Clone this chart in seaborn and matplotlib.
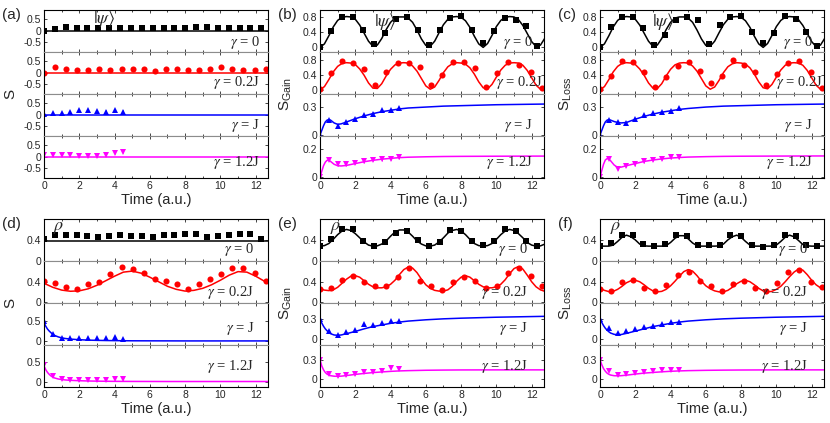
import numpy as np
import matplotlib
matplotlib.use("Agg")
import matplotlib.pyplot as plt
import seaborn as sns
from matplotlib.ticker import FuncFormatter, MultipleLocator

sns.set_theme(style="ticks")
plt.rcParams["font.family"] = ["Liberation Sans", "DejaVu Sans"]
plt.rcParams["mathtext.fontset"] = "stix"

# ---------------- time axes ----------------
t_fit = np.arange(0, 12.76, 0.25)          # theory curve samples (periodic rows)
t_half = np.arange(0, 13.01, 0.5)          # theory samples for (d) gamma=0.2J
t_decay = [0, 0.1, 0.2, 0.3, 0.4, 0.5, 0.6, 0.8, 1.0, 1.2, 1.5, 2, 2.5, 3, 3.5,
           4, 4.5, 5, 6, 7, 8, 10, 13]
t_flat = [0, 13]
t_black = [0, 0.62, 1.23, 1.85, 2.46, 3.08, 3.7, 4.31, 4.93, 5.54, 6.16, 6.78,
           7.39, 8.01, 8.62, 9.24, 9.86, 10.47, 11.09, 11.7, 12.32]
t_red = [0, 0.63, 1.26, 1.88, 2.51, 3.14, 3.77, 4.4, 5.03, 5.65, 6.28, 6.91,
         7.54, 8.17, 8.8, 9.42, 10.05, 10.68, 11.31, 11.94, 12.57]
t_short = [0, 0.5, 1, 1.5, 2, 2.5, 3, 3.5, 4, 4.5]

# ---------------- (a) S, pure state ----------------
a_fit = [0, 0]
a_black = [0.0, 0.08, 0.16, 0.12, 0.12, 0.14, 0.13, 0.12, 0.13, 0.13, 0.13,
           0.13, 0.14, 0.14, 0.15, 0.15, 0.14, 0.14, 0.14, 0.11, 0.11]
a_red = [0.0, 0.23, 0.17, 0.12, 0.12, 0.18, 0.12, 0.15, 0.17, 0.18, 0.09,
         0.15, 0.15, 0.12, 0.14, 0.15, 0.24, 0.15, 0.11, 0.12, 0.15]
a_blue = [0.04, 0.08, 0.07, 0.13, 0.2, 0.19, 0.16, 0.14, 0.2, 0.14]
a_mag = [0.08, 0.08, 0.08, 0.08, 0.05, 0.02, 0.04, 0.06, 0.15, 0.2]

# ---------------- (b) S_Gain, pure state ----------------
b_black_fit = [0, 0.09, 0.30, 0.53, 0.70, 0.78, 0.80, 0.79, 0.73, 0.58, 0.37, 0.16,
               0.03, 0.06, 0.23, 0.46, 0.65, 0.76, 0.79, 0.79, 0.76, 0.65, 0.45, 0.22,
               0.05, 0.03, 0.16, 0.38, 0.59, 0.73, 0.79, 0.80, 0.78, 0.69, 0.52, 0.29,
               0.09, 0.0, 0.10, 0.31, 0.54, 0.70, 0.78, 0.80, 0.79, 0.72, 0.57, 0.36,
               0.15, 0.02, 0.06, 0.24]
b_red_fit = [0, 0.08, 0.27, 0.48, 0.63, 0.71, 0.73, 0.72, 0.68, 0.56, 0.39, 0.18,
             0.04, 0.03, 0.16, 0.37, 0.55, 0.67, 0.72, 0.73, 0.72, 0.64, 0.50, 0.30,
             0.10, 0.01, 0.07, 0.25, 0.46, 0.62, 0.70, 0.73, 0.72, 0.69, 0.59, 0.42,
             0.21, 0.05, 0.02, 0.14, 0.34, 0.53, 0.66, 0.72, 0.73, 0.72, 0.66, 0.52,
             0.32, 0.12, 0.01, 0.05]
b_black = [0.02, 0.42, 0.8, 0.8, 0.45, 0.08, 0.38, 0.74, 0.8, 0.46, 0.06, 0.46,
           0.76, 0.81, 0.46, 0.12, 0.43, 0.76, 0.72, 0.55, 0.04]
b_red = [0.02, 0.46, 0.78, 0.72, 0.55, 0.12, 0.49, 0.72, 0.73, 0.62, 0.13, 0.39,
         0.76, 0.74, 0.58, 0.07, 0.45, 0.76, 0.68, 0.48, 0.05]
b_blue_fit = [0, 0.05, 0.1, 0.14, 0.16, 0.165, 0.16, 0.13, 0.115, 0.12, 0.14, 0.175,
              0.205, 0.23, 0.25, 0.265, 0.28, 0.29, 0.3, 0.31, 0.315, 0.325, 0.333]
b_blue = [0.0, 0.16, 0.10, 0.14, 0.17, 0.21, 0.23, 0.27, 0.27, 0.29]
b_mag_fit = [0, 0.04, 0.08, 0.105, 0.118, 0.118, 0.11, 0.09, 0.08, 0.078, 0.082,
             0.095, 0.108, 0.118, 0.126, 0.132, 0.137, 0.14, 0.143, 0.145, 0.146,
             0.147, 0.148]
b_mag = [0.0, 0.12, 0.09, 0.09, 0.10, 0.11, 0.12, 0.125, 0.13, 0.14]

# ---------------- (c) S_Loss, pure state (same theory as gain) ----------------
c_black = [0.02, 0.53, 0.8, 0.8, 0.5, 0.06, 0.33, 0.72, 0.8, 0.7, 0.1, 0.58,
           0.8, 0.82, 0.39, 0.12, 0.38, 0.82, 0.74, 0.39, 0.03]
c_red = [0.02, 0.36, 0.77, 0.74, 0.47, 0.07, 0.33, 0.65, 0.76, 0.51, 0.18, 0.38,
         0.8, 0.67, 0.49, 0.13, 0.43, 0.71, 0.77, 0.49, 0.05]
c_blue_fit = [0, 0.05, 0.1, 0.14, 0.16, 0.165, 0.16, 0.145, 0.135, 0.13, 0.135, 0.17,
              0.2, 0.225, 0.245, 0.26, 0.275, 0.285, 0.3, 0.31, 0.315, 0.325, 0.333]
c_blue = [0.0, 0.16, 0.14, 0.13, 0.17, 0.21, 0.24, 0.25, 0.26, 0.29]
c_mag_fit = [0, 0.045, 0.09, 0.12, 0.13, 0.128, 0.115, 0.085, 0.068, 0.07, 0.08,
             0.095, 0.11, 0.12, 0.128, 0.134, 0.138, 0.141, 0.144, 0.146, 0.147,
             0.148, 0.149]
c_mag = [0.0, 0.13, 0.06, 0.08, 0.09, 0.11, 0.12, 0.13, 0.14, 0.14]

# ---------------- (d) S, mixed state ----------------
d_black_fit = [0.38, 0.38]
d_black = [0.41, 0.49, 0.49, 0.49, 0.48, 0.45, 0.47, 0.49, 0.48, 0.47, 0.46, 0.49,
           0.49, 0.51, 0.51, 0.46, 0.48, 0.50, 0.51, 0.51, 0.42]
d_red_fit = [0.38, 0.3, 0.245, 0.222, 0.23, 0.27, 0.34, 0.43, 0.52, 0.6, 0.62, 0.58,
             0.5, 0.41, 0.32, 0.26, 0.225, 0.24, 0.28, 0.35, 0.44, 0.54, 0.61, 0.6,
             0.52, 0.42, 0.33]
d_red = [0.43, 0.38, 0.3, 0.27, 0.36, 0.41, 0.56, 0.71, 0.67, 0.59, 0.46, 0.43,
         0.36, 0.26, 0.37, 0.46, 0.56, 0.69, 0.69, 0.59, 0.43]
d_blue_fit = [0.45, 0.36, 0.29, 0.24, 0.2, 0.16, 0.135, 0.1, 0.075, 0.06, 0.045,
              0.03, 0.02, 0.014, 0.01, 0.007, 0.005, 0.003, 0.002, 0.001, 0, 0, 0]
d_blue = [0.48, 0.17, 0.08, 0.08, 0.065, 0.08, 0.065, 0.065, 0.1, 0.05]
d_mag_fit = [0.4, 0.3, 0.23, 0.18, 0.14, 0.11, 0.09, 0.065, 0.05, 0.04, 0.03, 0.02,
             0.013, 0.009, 0.006, 0.004, 0.003, 0.002, 0.001, 0, 0, 0, 0]
d_mag = [0.42, 0.13, 0.06, 0.05, 0.04, 0.05, 0.04, 0.04, 0.07, 0.07]

# ---------------- (e) S_Gain, mixed state ----------------
e_black_fit = [0.28, 0.29, 0.33, 0.41, 0.50, 0.57, 0.60, 0.58, 0.52, 0.44, 0.36, 0.30,
               0.28, 0.285, 0.32, 0.38, 0.47, 0.55, 0.59, 0.59, 0.55, 0.47, 0.38, 0.32,
               0.285, 0.28, 0.30, 0.36, 0.44, 0.53, 0.58, 0.60, 0.57, 0.50, 0.41, 0.33,
               0.29, 0.28, 0.29, 0.33, 0.41, 0.50, 0.57, 0.60, 0.58, 0.52, 0.44, 0.35,
               0.30, 0.28, 0.285, 0.32]
e_black = [0.29, 0.41, 0.61, 0.6, 0.37, 0.28, 0.36, 0.54, 0.57, 0.4, 0.28, 0.36,
           0.58, 0.57, 0.37, 0.3, 0.38, 0.6, 0.57, 0.38, 0.29]
e_red_fit = [0.27, 0.245, 0.235, 0.25, 0.30, 0.38, 0.46, 0.52, 0.53, 0.50, 0.43, 0.36,
             0.31, 0.29, 0.29, 0.31, 0.36, 0.44, 0.55, 0.65, 0.70, 0.68, 0.59, 0.46,
             0.35, 0.28, 0.24, 0.225, 0.225, 0.25, 0.32, 0.42, 0.50, 0.53, 0.50, 0.43,
             0.36, 0.31, 0.29, 0.29, 0.31, 0.36, 0.45, 0.57, 0.67, 0.71, 0.66, 0.54,
             0.41, 0.31, 0.25, 0.22]
e_red = [0.27, 0.28, 0.45, 0.52, 0.4, 0.32, 0.33, 0.5, 0.68, 0.42, 0.33, 0.25,
         0.41, 0.51, 0.42, 0.29, 0.32, 0.58, 0.69, 0.52, 0.33]
e_blue_fit = [0.3, 0.24, 0.19, 0.15, 0.12, 0.095, 0.075, 0.055, 0.05, 0.055, 0.075,
              0.11, 0.15, 0.185, 0.21, 0.235, 0.255, 0.27, 0.29, 0.305, 0.315, 0.33,
              0.345]
e_blue = [0.31, 0.11, 0.05, 0.1, 0.13, 0.22, 0.21, 0.24, 0.27, 0.27]
e_mag_fit = [0.3, 0.2, 0.14, 0.1, 0.075, 0.06, 0.05, 0.042, 0.04, 0.043, 0.052, 0.07,
             0.085, 0.098, 0.108, 0.117, 0.124, 0.128, 0.134, 0.137, 0.139, 0.14, 0.14]
e_mag = [0.29, 0.075, 0.04, 0.06, 0.075, 0.1, 0.11, 0.125, 0.17, 0.15]

# ---------------- (f) S_Loss, mixed state ----------------
f_black_fit = [0.28, 0.28, 0.28, 0.30, 0.37, 0.45, 0.49, 0.46, 0.40, 0.32, 0.285, 0.28,
               0.28, 0.28, 0.28, 0.29, 0.35, 0.43, 0.48, 0.48, 0.42, 0.34, 0.29, 0.28,
               0.28, 0.28, 0.28, 0.285, 0.32, 0.40, 0.46, 0.49, 0.45, 0.37, 0.30, 0.28,
               0.28, 0.28, 0.28, 0.28, 0.30, 0.37, 0.45, 0.49, 0.46, 0.39, 0.31, 0.285,
               0.28, 0.28, 0.28, 0.28]
f_black = [0.29, 0.34, 0.49, 0.49, 0.33, 0.29, 0.32, 0.49, 0.47, 0.31, 0.3, 0.31,
           0.5, 0.48, 0.3, 0.27, 0.3, 0.5, 0.47, 0.3, 0.29]
f_red_fit = [0.28, 0.24, 0.215, 0.22, 0.26, 0.32, 0.39, 0.43, 0.44, 0.41, 0.35, 0.28,
             0.23, 0.21, 0.22, 0.26, 0.33, 0.42, 0.52, 0.61, 0.65, 0.62, 0.53, 0.42,
             0.33, 0.27, 0.23, 0.21, 0.21, 0.24, 0.30, 0.37, 0.42, 0.44, 0.41, 0.35,
             0.28, 0.23, 0.21, 0.22, 0.26, 0.32, 0.41, 0.51, 0.60, 0.66, 0.64, 0.55,
             0.44, 0.35, 0.29, 0.26]
f_red = [0.26, 0.23, 0.41, 0.44, 0.28, 0.23, 0.34, 0.54, 0.6, 0.42, 0.32, 0.23,
         0.37, 0.43, 0.28, 0.23, 0.39, 0.6, 0.65, 0.41, 0.31]
f_blue_fit = [0.3, 0.25, 0.2, 0.16, 0.13, 0.105, 0.085, 0.065, 0.06, 0.062, 0.08,
              0.115, 0.15, 0.185, 0.21, 0.235, 0.255, 0.27, 0.29, 0.305, 0.315, 0.33,
              0.345]
f_blue = [0.31, 0.16, 0.09, 0.11, 0.14, 0.18, 0.2, 0.23, 0.26, 0.26]
f_mag_fit = [0.3, 0.22, 0.16, 0.12, 0.09, 0.072, 0.06, 0.05, 0.048, 0.05, 0.058, 0.075,
             0.09, 0.1, 0.11, 0.118, 0.124, 0.128, 0.133, 0.136, 0.138, 0.14, 0.14]
f_mag = [0.3, 0.13, 0.065, 0.075, 0.09, 0.11, 0.12, 0.135, 0.14, 0.14]

gamma_labels = [r"$\gamma$ = 0", r"$\gamma$ = 0.2J", r"$\gamma$ = J", r"$\gamma$ = 1.2J"]
colors = ["black", "#ff0000", "#0000ff", "#ff00ff"]
markers = ["s", "o", "^", "v"]

# ---------------- layout (pixels) ----------------
W, H = 830, 423
fig = plt.figure(figsize=(W / 100, H / 100), dpi=100)


def px_axes(left, top, width, height):
    return fig.add_axes([left / W, 1 - (top + height) / H, width / W, height / H])


fmt = FuncFormatter(lambda v, p: "%g" % v)

# each row: fit_t, fit_y, pts_t, pts_y, err, ylim, yticks
panels = [
    dict(tag="(a)", left=44, top=10, ylab="S", gx=0.965, gy=[0.23, 0.27, 0.26, 0.38],
         note=(r"$|\psi\rangle$", 0.22, 0.8), rows=[
            (t_flat, a_fit, t_black, a_black, 0.05, (-0.95, 0.92), [-0.5, 0, 0.5]),
            (t_flat, a_fit, t_red, a_red, 0.05, (-0.95, 0.92), [-0.5, 0, 0.5]),
            (t_flat, a_fit, t_short, a_blue, 0.05, (-0.95, 0.92), [-0.5, 0, 0.5]),
            (t_flat, a_fit, t_short, a_mag, 0.05, (-0.95, 0.92), [-0.5, 0, 0.5])]),
    dict(tag="(b)", left=320, top=10, ylab=r"$\mathregular{S_{Gain}}$", gx=0.95,
         gy=[0.23, 0.27, 0.26, 0.38], note=(r"$|\psi\rangle$", 0.24, 0.72), rows=[
            (t_fit, b_black_fit, t_black, b_black, 0.03, (-0.12, 0.97), [0, 0.4, 0.8]),
            (t_fit, b_red_fit, t_red, b_red, 0.03, (-0.12, 1.02), [0, 0.4, 0.8]),
            (t_decay, b_blue_fit, t_short, b_blue, 0.012, (-0.01, 0.44), [0, 0.3]),
            (t_decay, b_mag_fit, t_short, b_mag, 0.01, (-0.007, 0.29), [0, 0.2])]),
    dict(tag="(c)", left=600, top=10, ylab=r"$\mathregular{S_{Loss}}$", gx=0.95,
         gy=[0.23, 0.27, 0.26, 0.38], note=(r"$|\psi\rangle$", 0.23, 0.72), rows=[
            (t_fit, b_black_fit, t_black, c_black, 0.03, (-0.12, 0.97), [0, 0.4, 0.8]),
            (t_fit, b_red_fit, t_red, c_red, 0.03, (-0.12, 1.02), [0, 0.4, 0.8]),
            (t_decay, c_blue_fit, t_short, c_blue, 0.012, (-0.01, 0.44), [0, 0.3]),
            (t_decay, c_mag_fit, t_short, c_mag, 0.01, (-0.007, 0.29), [0, 0.2])]),
    dict(tag="(d)", left=44, top=219, ylab="S", gx=0.94, gy=[0.27, 0.24, 0.39, 0.5],
         note=(r"$\rho$", 0.04, 0.8), rows=[
            (t_flat, d_black_fit, t_black, d_black, 0.015, (-0.005, 0.8), [0, 0.4]),
            (t_half, d_red_fit, t_red, d_red, 0.015, (-0.01, 0.82), [0, 0.4]),
            (t_decay, d_blue_fit, t_short, d_blue, 0.02, (-0.1, 0.93), [0, 0.5]),
            (t_decay, d_mag_fit, t_short, d_mag, 0.02, (-0.14, 0.93), [0, 0.5])]),
    dict(tag="(e)", left=320, top=219, ylab=r"$\mathregular{S_{Gain}}$", gx=0.93,
         gy=[0.27, 0.24, 0.39, 0.5], note=(r"$\rho$", 0.045, 0.8), rows=[
            (t_fit, e_black_fit, t_black, e_black, 0.015, (-0.005, 0.8), [0, 0.4]),
            (t_fit, e_red_fit, t_red, e_red, 0.015, (-0.01, 0.82), [0, 0.4]),
            (t_decay, e_blue_fit, t_short, e_blue, 0.015, (-0.1, 0.55), [0, 0.3]),
            (t_decay, e_mag_fit, t_short, e_mag, 0.015, (-0.125, 0.525), [0, 0.3])]),
    dict(tag="(f)", left=600, top=219, ylab=r"$\mathregular{S_{Loss}}$", gx=0.93,
         gy=[0.27, 0.24, 0.39, 0.5], note=(r"$\rho$", 0.045, 0.8), rows=[
            (t_fit, f_black_fit, t_black, f_black, 0.015, (-0.005, 0.8), [0, 0.4]),
            (t_fit, f_red_fit, t_red, f_red, 0.015, (-0.01, 0.82), [0, 0.4]),
            (t_decay, f_blue_fit, t_short, f_blue, 0.015, (-0.1, 0.55), [0, 0.3]),
            (t_decay, f_mag_fit, t_short, f_mag, 0.015, (-0.125, 0.525), [0, 0.3])]),
]

AX_W, ROW_H = 224, 42

for pan in panels:
    pure_gain_loss = pan["top"] == 10 and pan["left"] > 100
    for i, (ft, fy, pt, py, err, ylim, yt) in enumerate(pan["rows"]):
        ax = px_axes(pan["left"], pan["top"] + i * ROW_H, AX_W, ROW_H)
        sns.lineplot(x=ft, y=fy, ax=ax, color=colors[i], lw=1.1)
        ax.errorbar(pt, py, yerr=err, fmt=markers[i], color=colors[i], ms=4.4,
                    elinewidth=0.7, capsize=0, mew=0)
        ax.set_xlim(0, 12.7)
        ax.set_ylim(*ylim)
        ax.set_yticks(yt)
        ax.yaxis.set_major_formatter(fmt)
        ax.xaxis.set_major_locator(MultipleLocator(2))
        ax.xaxis.set_minor_locator(MultipleLocator(1))
        ax.tick_params(which="both", direction="in", top=True, right=True,
                       width=0.6, labelsize=7.5, pad=2)
        ax.tick_params(which="major", length=2.5)
        ax.tick_params(which="minor", length=1.5)
        ax.set_xlabel("")
        ax.set_ylabel("")
        for s in ax.spines.values():
            s.set_linewidth(0.8)
            s.set_color("black")
        if i > 0:
            ax.spines["top"].set_color("0.55")
        if i < 3:
            ax.spines["bottom"].set_color("0.55")
            ax.tick_params(labelbottom=False)
        gx = 0.998 if (i == 1 and pure_gain_loss) else pan["gx"]
        ax.text(gx, pan["gy"][i], gamma_labels[i], transform=ax.transAxes,
                ha="right", va="center", fontsize=10.5, family="Liberation Serif")
        if i == 0:
            txt, nx, ny = pan["note"]
            ax.text(nx, ny, txt, transform=ax.transAxes, ha="left", va="center",
                    fontsize=13)
    cx = (pan["left"] + AX_W / 2) / W
    fig.text(cx, 1 - (pan["top"] + 4 * ROW_H + 22) / H, "Time (a.u.)",
             ha="center", va="center", fontsize=10.5)
    fig.text((pan["left"] - 34) / W, 1 - (pan["top"] + 2 * ROW_H) / H, pan["ylab"],
             ha="center", va="center", rotation=90, fontsize=11)
    fig.text((pan["left"] - 42) / W, 1 - (pan["top"] + 5) / H, pan["tag"],
             ha="left", va="center", fontsize=11)

fig.savefig("out.png", dpi=100)
